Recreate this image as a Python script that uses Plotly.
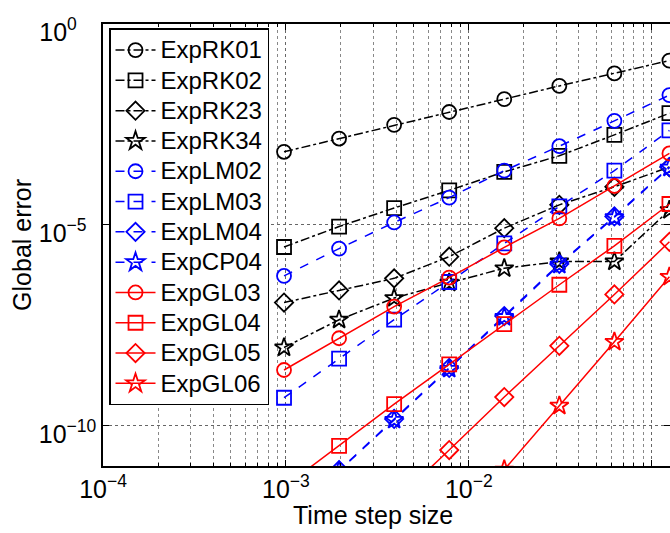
import plotly.graph_objects as go

step_size = [0.0009765625, 0.001953125, 0.00390625, 0.0078125,
             0.015625, 0.03125, 0.0625, 0.125]

rk01 = [6.6e-4, 1.41e-3, 3.09e-3, 6.46e-3, 1.35e-2, 2.88e-2, 5.89e-2, 1.23e-1]
rk02 = [2.82e-6, 9.1e-6, 2.63e-5, 7.24e-5, 2.09e-4, 5.25e-4, 1.74e-3, 6.03e-3]
rk23 = [1.17e-7, 2.34e-7, 4.68e-7, 1.62e-6, 8.3e-6, 3.16e-5, 8.9e-5, 2.75e-4]
rk34 = [8.9e-9, 4.37e-8, 1.51e-7, 3.63e-7, 8.3e-7, 1.23e-6, 1.23e-6, 2.34e-5]
lm02 = [5.37e-7, 2.57e-6, 1.15e-5, 4.79e-5, 2.24e-4, 9.1e-4, 3.89e-3, 1.70e-2]
lm03 = [5.0e-10, 4.68e-9, 4.37e-8, 3.8e-7, 3.47e-6, 2.88e-5, 2.24e-4, 2.24e-3]
lm04 = [4.0e-13, 7.9e-12, 1.48e-10, 2.75e-9, 5.4e-8, 1.07e-6, 1.62e-5, 2.75e-4]
cp04 = [3.8e-13, 7.6e-12, 1.40e-10, 2.6e-9, 5.1e-8, 1.02e-6, 1.55e-5, 2.65e-4]
gl03 = [2.45e-9, 1.51e-8, 9.3e-8, 4.9e-7, 2.75e-6, 1.45e-5, 9.3e-5, 6.0e-4]
gl04 = [3.0e-12, 3.16e-11, 3.47e-10, 3.39e-9, 3.39e-8, 3.24e-7, 3.02e-6, 3.31e-5]
gl05 = [3.2e-15, 6.3e-14, 1.26e-12, 2.5e-11, 5.2e-10, 9.8e-9, 1.86e-7, 3.8e-6]
gl06 = [3.5e-18, 1.35e-16, 5.2e-15, 2.1e-13, 8.1e-12, 3.16e-10, 1.23e-8, 5.1e-7]

series = [
    ("ExpRK01", rk01, "black", "dashdot", "circle-open"),
    ("ExpRK02", rk02, "black", "dashdot", "square-open"),
    ("ExpRK23", rk23, "black", "dashdot", "diamond-open"),
    ("ExpRK34", rk34, "black", "dashdot", "star-open"),
    ("ExpLM02", lm02, "#0000ff", "dash", "circle-open"),
    ("ExpLM03", lm03, "#0000ff", "dash", "square-open"),
    ("ExpLM04", lm04, "#0000ff", "dash", "diamond-open"),
    ("ExpCP04", cp04, "#0000ff", "dash", "star-open"),
    ("ExpGL03", gl03, "#ff0000", "solid", "circle-open"),
    ("ExpGL04", gl04, "#ff0000", "solid", "square-open"),
    ("ExpGL05", gl05, "#ff0000", "solid", "diamond-open"),
    ("ExpGL06", gl06, "#ff0000", "solid", "star-open"),
]

x_ticks = [1e-4, 1e-3, 1e-2, 1e-1]
x_ticktext = ["10<sup>\u22124</sup>", "10<sup>\u22123</sup>", "10<sup>\u22122</sup>", "10<sup>\u22121</sup>"]
y_ticks = [1e-10, 1e-5, 1e0]
y_ticktext = ["10<sup>\u221210</sup>",
              "10<sup>\u22125\u00a0\u00a0</sup>",
              "10<sup>0\u00a0\u00a0\u00a0\u00a0</sup>"]
x_minor = [k * 10.0 ** e for e in (-4, -3, -2, -1) for k in range(2, 10)]

fig = go.Figure()
for name, vals, color, dash, sym in series:
    fig.add_trace(go.Scatter(
        x=step_size, y=vals, name='<span style="font-size:24px">' + name + '</span>',
        mode="lines+markers",
        line=dict(color=color, dash=dash, width=1.5),
        marker=dict(symbol=sym, size=14, color=color, line=dict(color=color, width=1.8)),
    ))

font = "Liberation Sans, Arial, Helvetica, sans-serif"
fig.update_layout(
    width=670, height=533,
    margin=dict(l=103, r=0, t=24, b=67, autoexpand=False),
    paper_bgcolor="white", plot_bgcolor="white",
    font=dict(family=font, size=23, color="black"),
    showlegend=True,
    legend=dict(x=0.0106, y=0.99, xanchor="left", yanchor="top",
                bgcolor="white", bordercolor="black", borderwidth=1.5,
                font=dict(size=21), tracegroupgap=0, itemwidth=40),
    xaxis=dict(type="log", range=[-4, -0.9], automargin=False,
               tickvals=x_ticks, ticktext=x_ticktext, tickfont=dict(size=25),
               ticks="inside", ticklen=6, tickcolor="black",
               showline=True, linecolor="black", linewidth=1.5, mirror="allticks",
               showgrid=True, gridcolor="#666666", griddash="dot", gridwidth=1,
               zeroline=False,
               minor=dict(tickvals=x_minor, ticks="inside", ticklen=3, tickcolor="black",
                          showgrid=True, gridcolor="#888888", griddash="dot", gridwidth=1)),
    yaxis=dict(type="log", range=[-11, 0], automargin=False,
               tickvals=y_ticks, ticktext=y_ticktext, tickfont=dict(size=25),
               ticklabelshift=8,
               ticks="inside", ticklen=6, tickcolor="black",
               showline=True, linecolor="black", linewidth=1.5, mirror="allticks",
               showgrid=True, gridcolor="#666666", griddash="dot", gridwidth=1,
               zeroline=False),
    annotations=[
        dict(text="Time step size", xref="paper", yref="paper", x=0.476, y=-0.111,
             xanchor="center", yanchor="middle", showarrow=False, font=dict(size=25)),
        dict(text="Global error", xref="paper", yref="paper", x=-0.143, y=0.5,
             xanchor="center", yanchor="middle", textangle=-90, showarrow=False,
             font=dict(size=25)),
    ],
)

fig.write_html("out.html", config={"displayModeBar": False},
               post_script="document.body.style.margin='0';")
